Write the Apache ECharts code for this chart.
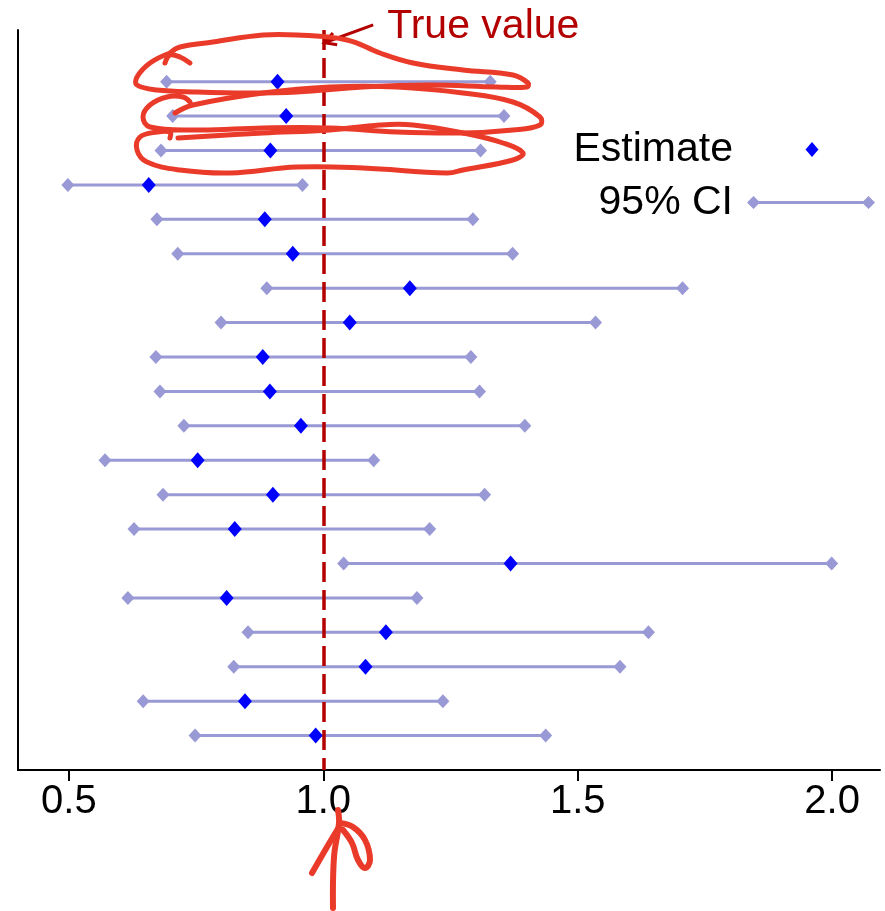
<!DOCTYPE html>
<html>
<head>
<meta charset="utf-8">
<script src="https://cdn.jsdelivr.net/npm/echarts@6/dist/echarts.min.js"></script>
<style>
  html, body { margin: 0; padding: 0; background: #fff; }
  #chart { width: 885px; height: 911px; }
</style>
</head>
<body>
<div id="chart"></div>
<script>
// rows from top (1) to bottom (20)
const rows = [1, 2, 3, 4, 5, 6, 7, 8, 9, 10, 11, 12, 13, 14, 15, 16, 17, 18, 19, 20];
const ciLow = [0.692, 0.704, 0.681, 0.498, 0.673, 0.714, 0.889, 0.799, 0.671, 0.679,
               0.726, 0.571, 0.685, 0.628, 1.040, 0.616, 0.852, 0.824, 0.646, 0.748];
const estimate = [0.910, 0.927, 0.896, 0.657, 0.885, 0.940, 1.170, 1.052, 0.881, 0.895,
                  0.956, 0.753, 0.901, 0.826, 1.368, 0.810, 1.123, 1.083, 0.846, 0.985];
const ciHigh = [1.328, 1.355, 1.309, 0.959, 1.294, 1.372, 1.706, 1.535, 1.290, 1.307,
                1.396, 1.099, 1.317, 1.209, 1.999, 1.184, 1.639, 1.583, 1.235, 1.437];
const xTicks = [0.5, 1.0, 1.5, 2.0];
const trueValue = 1.0;

const FONT = '"Liberation Sans", Arial, Helvetica, sans-serif';
const CI_COLOR = '#9999d6';
const EST_COLOR = '#0000ff';
const TRUE_COLOR = '#b30000';
const PEN = '#ea3b2a';

// legend icons (box 137x16, moveTo points keep the box size)
const CI_ICON = 'path://M0 0 M137 16 M9 8 L15.5 1.5 L22 8 L15.5 14.5 Z M15.5 6.5 L130.5 6.5 L130.5 9.5 L15.5 9.5 Z M124 8 L130.5 1.5 L137 8 L130.5 14.5 Z';
const EST_ICON = 'path://M0 0 M137 16 M67.5 8 L74 0.5 L80.5 8 L74 15.5 Z';

function renderCI(params, api) {
  const lo = api.coord([api.value(0), api.value(2)]);
  const hi = api.coord([api.value(1), api.value(2)]);
  const diamond = (p) => ({
    type: 'polygon',
    shape: { points: [[p[0] - 6.5, p[1]], [p[0], p[1] - 7], [p[0] + 6.5, p[1]], [p[0], p[1] + 7]] },
    style: { fill: CI_COLOR }
  });
  return {
    type: 'group',
    children: [
      { type: 'line', shape: { x1: lo[0], y1: lo[1], x2: hi[0], y2: hi[1] },
        style: { stroke: CI_COLOR, lineWidth: 3 } },
      diamond(lo),
      diamond(hi)
    ]
  };
}

// hand drawn red marks
function pen(points, width) {
  return {
    type: 'polyline',
    shape: { points: points, smooth: 0.4 },
    style: { stroke: PEN, lineWidth: width || 5, fill: null, lineCap: 'round', lineJoin: 'round' },
    z: 100
  };
}
const scribbles = [
  pen([[170, 53], [150, 63], [137, 77], [137, 85], [157, 90], [197, 92], [247, 93], [297, 92], [363, 87],
       [430, 85], [497, 87], [527, 87], [528, 83], [513, 75], [463, 70], [413, 63], [380, 53], [347, 40],
       [297, 35], [263, 35], [213, 42], [180, 47], [170, 53]]),
  pen([[165, 63], [170, 55], [180, 57], [190, 63]]),
  pen([[175, 113], [193, 105], [263, 93], [330, 87], [397, 87], [463, 93], [513, 102], [540, 117],
       [540, 125], [513, 130], [463, 133], [397, 132], [330, 128], [263, 128], [197, 130], [150, 127],
       [143, 117], [150, 105], [167, 97], [183, 97], [190, 102]]),
  pen([[178, 138], [263, 133], [330, 130], [380, 125], [413, 125], [463, 133], [503, 143], [523, 153],
       [513, 160], [463, 170], [447, 173], [363, 168], [297, 167], [230, 173], [180, 170], [147, 162],
       [137, 150], [140, 137], [157, 132], [170, 132], [170, 138]]),
  pen([[333, 908], [334, 857], [339, 823], [338, 810]], 6),
  pen([[339, 827], [327, 847], [312, 873]], 6),
  pen([[340, 823], [353, 827], [365, 840], [370, 860], [365, 868], [358, 860], [352, 843], [343, 830]], 6)
];

const chart = echarts.init(document.getElementById('chart'));
const option = {
  animation: false,
  backgroundColor: '#fff',
  grid: { left: 18, right: 5, top: 30, bottom: 141, containLabel: false },
  xAxis: {
    type: 'value',
    min: 0.4,
    max: 2.094,
    splitLine: { show: false },
    axisLine: { show: true, onZero: false, lineStyle: { color: '#000', width: 2 } },
    axisTick: { show: true, length: 11, customValues: xTicks, lineStyle: { color: '#000', width: 2 } },
    axisLabel: {
      customValues: xTicks,
      margin: 12,
      fontSize: 40,
      fontFamily: FONT,
      color: '#000',
      formatter: (v) => v.toFixed(1)
    }
  },
  yAxis: {
    type: 'value',
    inverse: true,
    min: -0.5,
    max: 21,
    splitLine: { show: false },
    axisLine: { show: true, onZero: false, lineStyle: { color: '#000', width: 2 } },
    axisTick: { show: false },
    axisLabel: { show: false }
  },
  legend: [
    {
      data: [{ name: 'Estimate', icon: EST_ICON, itemStyle: { color: EST_COLOR } }],
      orient: 'vertical', align: 'right', right: 10, top: 129, padding: 0,
      itemWidth: 137, itemHeight: 16, selectedMode: false,
      textStyle: { fontSize: 41, fontFamily: FONT, color: '#000' }
    },
    {
      data: [{ name: '95% CI', icon: CI_ICON, itemStyle: { color: CI_COLOR } }],
      orient: 'vertical', align: 'right', right: 10, top: 182, padding: 0,
      itemWidth: 137, itemHeight: 16, selectedMode: false,
      textStyle: { fontSize: 41, fontFamily: FONT, color: '#000' }
    }
  ],
  series: [
    {
      name: '95% CI',
      type: 'custom',
      renderItem: renderCI,
      itemStyle: { color: CI_COLOR },
      encode: { x: [0, 1], y: 2 },
      data: ciLow.map((lo, i) => [lo, ciHigh[i], rows[i]]),
      z: 2,
      markLine: {
        silent: true,
        symbol: 'none',
        label: { show: false },
        lineStyle: { color: TRUE_COLOR, width: 3.5, type: [20, 8] },
        data: [{ xAxis: trueValue }]
      }
    },
    {
      name: 'Estimate',
      type: 'scatter',
      symbol: 'diamond',
      symbolSize: [14, 16],
      itemStyle: { color: EST_COLOR, opacity: 1 },
      data: estimate.map((v, i) => [v, rows[i]]),
      z: 4
    }
  ],
  graphic: scribbles
};
chart.setOption(option);

// "True value" arrow, anchored on the data scale
const tip = chart.convertToPixel({ gridIndex: 0 }, [trueValue + 0.002, -0.13]);
const tail = chart.convertToPixel({ gridIndex: 0 }, [trueValue + 0.098, -0.65]);
const ang = Math.atan2(tail[1] - tip[1], tail[0] - tip[0]);
const hl = 13;
const barb = (a) => [tip[0] + hl * Math.cos(ang + a), tip[1] + hl * Math.sin(ang + a)];
chart.setOption({
  graphic: scribbles.concat([
    { type: 'line', shape: { x1: tail[0], y1: tail[1], x2: tip[0], y2: tip[1] },
      style: { stroke: TRUE_COLOR, lineWidth: 3 }, z: 50 },
    { type: 'polyline', shape: { points: [barb(0.5), tip, barb(-0.5)] },
      style: { stroke: TRUE_COLOR, lineWidth: 3, fill: null }, z: 50 },
    { type: 'text', x: tail[0] + 14, y: tail[1] + 2, z: 50,
      style: { text: 'True value', fill: TRUE_COLOR, fontSize: 41, fontFamily: FONT,
               textVerticalAlign: 'middle', verticalAlign: 'middle' } }
  ])
});
</script>
</body>
</html>
